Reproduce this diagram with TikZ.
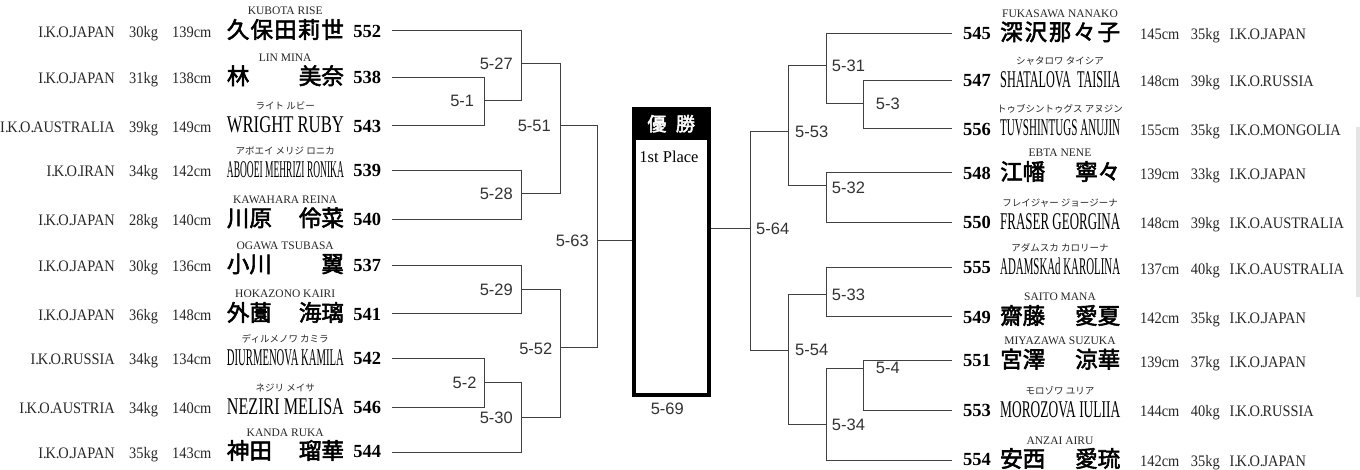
\documentclass[tikz,border=0pt]{standalone}
\usepackage{fontspec}
\usepackage{graphicx}
\setmainfont{Liberation Serif}
\newfontfamily\condf{Liberation Serif}[FakeStretch=0.9]
\newfontfamily\sansf{Liberation Sans}
\newfontfamily\jpf{Noto Sans CJK JP}
\newfontfamily\jpb{Noto Sans CJK JP}[FakeBold=2.5]
\newlength\nmw
\newcommand\iko{I.\kern-1.2pt K.\kern-1.2pt O.\kern-1pt}
\newcommand\jname[1]{\makebox[\nmw]{\jpb\fontsize{22.5}{24}\selectfont #1}}
\newcommand\lname[1]{\resizebox{\nmw}{\height}{\fontsize{24}{26}\selectfont #1}}
\newcommand\rname[1]{{\fontsize{11.5}{12}\selectfont #1}}
\newcommand\kname[1]{{\jpf\fontsize{9.5}{11}\selectfont #1}}
\tikzset{
  txt/.style={inner sep=0pt, text=black!85, font=\condf\fontsize{16}{18}\selectfont},
  num/.style={inner sep=0pt, outer xsep=11pt, font=\bfseries\fontsize{18.5}{20}\selectfont},
  nm/.style={inner sep=0pt},
  ruby/.style={inner sep=0pt, text=black!85},
  mlab/.style={inner sep=0pt, text=black!80, font=\sansf\fontsize{16.5}{18}\selectfont},
  br/.style={draw=black!75, line width=1pt}
}
% left row: #1 y, #2 country, #3 kg, #4 cm, #5 name, #6 ruby, #7 number
\newcommand\Lrow[7]{%
  \node[txt, anchor=base east] (c#7) at (115,#1+6.3) {\iko #2};
  \node[txt, anchor=base west] (k#7) at (129,#1+6.3) {#3};
  \node[txt, anchor=base west] (h#7) at (172,#1+6.3) {#4};
  \node[nm, anchor=base west] (n#7) at (226.7,#1+7) {#5};
  \node[ruby, anchor=base] (r#7) at (285.2,#1-16) {#6};
  \node[num, anchor=east] (p#7) at (392,#1) {#7};
}
% right row: #1 y, #2 number, #3 name, #4 ruby, #5 cm, #6 kg, #7 country
\newcommand\Rrow[7]{%
  \node[num, anchor=west] (p#2) at (952,#1) {#2};
  \node[nm, anchor=base west] (n#2) at (1000,#1+7) {#3};
  \node[ruby, anchor=base] (r#2) at (1060,#1-16) {#4};
  \node[txt, anchor=base west] (h#2) at (1140,#1+6.3) {#5};
  \node[txt, anchor=base west] (k#2) at (1190.7,#1+6.3) {#6};
  \node[txt, anchor=base west] (c#2) at (1229.3,#1+6.3) {\iko #7};
}
\begin{document}
\begin{tikzpicture}[x=1pt,y=-1pt]
\useasboundingbox (0,0) rectangle (1360,470);
\fill[black!10] (1356,127) rectangle (1360,297);

% ---------- left players ----------
\setlength\nmw{117pt}
\Lrow{31}{JAPAN}{30kg}{139cm}{\jname{久\hfill 保\hfill 田\hfill 莉\hfill 世}}{\rname{KUBOTA RISE}}{552}
\Lrow{77.3}{JAPAN}{31kg}{138cm}{\jname{林\hfill 美奈}}{\rname{LIN MINA}}{538}
\Lrow{126}{AUSTRALIA}{39kg}{149cm}{\lname{WRIGHT RUBY}}{\kname{ライト ルビー}}{543}
\Lrow{170.7}{IRAN}{34kg}{142cm}{\lname{ABOOEI MEHRIZI RONIKA}}{\kname{アボエイ メリジ ロニカ}}{539}
\Lrow{219.3}{JAPAN}{28kg}{140cm}{\jname{川原\hfill 伶菜}}{\rname{KAWAHARA REINA}}{540}
\Lrow{265.3}{JAPAN}{30kg}{136cm}{\jname{小川\hfill 翼}}{\rname{OGAWA TSUBASA}}{537}
\Lrow{314}{JAPAN}{36kg}{148cm}{\jname{外薗\hfill 海璃}}{\rname{HOKAZONO KAIRI}}{541}
\Lrow{358.3}{RUSSIA}{34kg}{134cm}{\lname{DIURMENOVA KAMILA}}{\kname{ディルメノワ カミラ}}{542}
\Lrow{407.3}{AUSTRIA}{34kg}{140cm}{\lname{NEZIRI MELISA}}{\kname{ネジリ メイサ}}{546}
\Lrow{452}{JAPAN}{35kg}{143cm}{\jname{神田\hfill 瑠華}}{\rname{KANDA RUKA}}{544}

% ---------- right players ----------
\setlength\nmw{120pt}
\Rrow{33.3}{545}{\jname{深\hfill 沢\hfill 那\hfill 々\hfill 子}}{\rname{FUKASAWA NANAKO}}{145cm}{35kg}{JAPAN}
\Rrow{80.3}{547}{\lname{SHATALOVA\ \ TAISIIA}}{\kname{シャタロワ タイシア}}{148cm}{39kg}{RUSSIA}
\Rrow{129}{556}{\lname{TUVSHINTUGS ANUJIN}}{\kname{トゥブシントゥグス アヌジン}}{155cm}{35kg}{MONGOLIA}
\Rrow{173}{548}{\jname{江幡\hfill 寧々}}{\rname{EBTA NENE}}{139cm}{33kg}{JAPAN}
\Rrow{222.3}{550}{\lname{FRASER GEORGINA}}{\kname{フレイジャー ジョージーナ}}{148cm}{39kg}{AUSTRALIA}
\Rrow{268}{555}{\lname{ADAMSKAd KAROLINA}}{\kname{アダムスカ カロリーナ}}{137cm}{40kg}{AUSTRALIA}
\Rrow{317}{549}{\jname{齋藤\hfill 愛夏}}{\rname{SAITO MANA}}{142cm}{35kg}{JAPAN}
\Rrow{360.7}{551}{\jname{宮澤\hfill 涼華}}{\rname{MIYAZAWA SUZUKA}}{139cm}{37kg}{JAPAN}
\Rrow{410}{553}{\lname{MOROZOVA IULIIA}}{\kname{モロゾワ ユリア}}{144cm}{40kg}{RUSSIA}
\Rrow{460}{554}{\jname{安西\hfill 愛琉}}{\rname{ANZAI AIRU}}{142cm}{35kg}{JAPAN}

% ---------- champion box ----------
\node[draw=black, line width=4pt, minimum width=75pt, minimum height=284pt, inner sep=0pt, fill=white] (champ) at (671.2,253.3) {};
\node[fill=black, minimum width=79pt, minimum height=32.4pt, inner sep=0pt, anchor=north, text=white, font=\jpb\fontsize{19}{20}\selectfont] (hdr) at ([yshift=2pt]champ.north) {優\hspace{0.5em}勝};
\node[inner sep=0pt, font=\fontsize{16.5}{18}\selectfont] (place) at (669,156.7) {1st Place};
\node[mlab] (l69) at (667.3,409) {5-69};

% ---------- left bracket ----------
\coordinate (m1) at (484,101);
\coordinate (m27) at (521.7,63.5);
\coordinate (m28) at (521.7,193.5);
\coordinate (m51) at (560,126);
\coordinate (m29) at (521.7,290);
\coordinate (m2) at (484,382.7);
\coordinate (m30) at (521.7,417.7);
\coordinate (m52) at (560,347.3);
\coordinate (m63) at (597,241);

\draw[br] (p552.east) -| (m27);
\draw[br] (p538.east) -| (m1);
\draw[br] (p543.east) -| (m1);
\draw[br] (m1) -| (m27);
\draw[br] (m27) -| (m51);
\draw[br] (p539.east) -| (m28);
\draw[br] (p540.east) -| (m28);
\draw[br] (m28) -| (m51);
\draw[br] (m51) -| (m63);
\draw[br] (p537.east) -| (m29);
\draw[br] (p541.east) -| (m29);
\draw[br] (m29) -| (m52);
\draw[br] (p542.east) -| (m2);
\draw[br] (p546.east) -| (m2);
\draw[br] (m2) -| (m30);
\draw[br] (p544.east) -| (m30);
\draw[br] (m30) -| (m52);
\draw[br] (m52) -| (m63);
\draw[br] (m63) -- (m63 -| champ.west);

\node[mlab, anchor=east] (l1) at ([xshift=-9.7pt]m1) {5-1};
\node[mlab, anchor=east] (l27) at ([xshift=-8.7pt]m27) {5-27};
\node[mlab, anchor=east] (l28) at ([xshift=-8.7pt]m28) {5-28};
\node[mlab, anchor=east] (l51) at ([xshift=-9pt]m51) {5-51};
\node[mlab, anchor=east] (l29) at ([xshift=-8.7pt]m29) {5-29};
\node[mlab, anchor=east] (l2) at ([xshift=-7.3pt]m2) {5-2};
\node[mlab, anchor=east] (l30) at ([xshift=-8.7pt]m30) {5-30};
\node[mlab, anchor=east] (l52) at ([xshift=-7.5pt,yshift=-1.5pt]m52) {5-52};
\node[mlab, anchor=east] (l63) at ([xshift=-8pt]m63) {5-63};

% ---------- right bracket ----------
\coordinate (m3) at (863.3,103.7);
\coordinate (m31) at (826,66);
\coordinate (m32) at (826,186);
\coordinate (m53) at (788.3,132);
\coordinate (m33) at (826,294.7);
\coordinate (m4) at (863.3,368.3);
\coordinate (m34) at (826,424.7);
\coordinate (m54) at (788.3,350);
\coordinate (m64) at (750,229);

\draw[br] (p545.west) -| (m31);
\draw[br] (p547.west) -| (m3);
\draw[br] (p556.west) -| (m3);
\draw[br] (m3) -| (m31);
\draw[br] (m31) -| (m53);
\draw[br] (p548.west) -| (m32);
\draw[br] (p550.west) -| (m32);
\draw[br] (m32) -| (m53);
\draw[br] (m53) -| (m64);
\draw[br] (p555.west) -| (m33);
\draw[br] (p549.west) -| (m33);
\draw[br] (m33) -| (m54);
\draw[br] (p551.west) -| (m4);
\draw[br] (p553.west) -| (m4);
\draw[br] (m4) -| (m34);
\draw[br] (p554.west) -| (m34);
\draw[br] (m34) -| (m54);
\draw[br] (m54) -| (m64);
\draw[br] (m64) -- (m64 -| champ.east);

\node[mlab, anchor=west] (l3) at ([xshift=12.4pt]m3) {5-3};
\node[mlab, anchor=west] (l31) at ([xshift=5.7pt]m31) {5-31};
\node[mlab, anchor=west] (l32) at ([xshift=5.7pt,yshift=-1.5pt]m32) {5-32};
\node[mlab, anchor=west] (l53) at ([xshift=6.7pt]m53) {5-53};
\node[mlab, anchor=west] (l33) at ([xshift=5.7pt]m33) {5-33};
\node[mlab, anchor=west] (l4) at ([xshift=12.4pt]m4) {5-4};
\node[mlab, anchor=west] (l34) at ([xshift=5.7pt]m34) {5-34};
\node[mlab, anchor=west] (l54) at ([xshift=6.7pt]m54) {5-54};
\node[mlab, anchor=west] (l64) at ([xshift=6pt]m64) {5-64};
\end{tikzpicture}
\end{document}
